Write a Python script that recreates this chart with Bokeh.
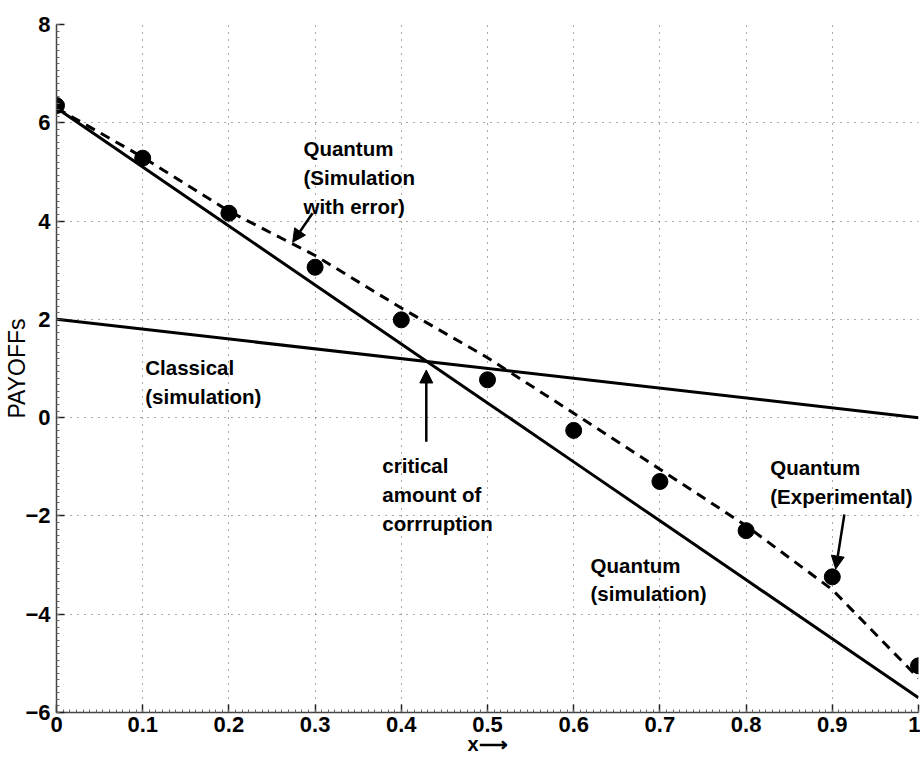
import numpy as np
from bokeh.plotting import figure
from bokeh.models import FixedTicker, Label, Arrow, NormalHead, Range1d
from bokeh.embed import file_html
from bokeh.resources import INLINE

# ---------------- data ----------------
x_vals = [0.0, 0.1, 0.2, 0.3, 0.4, 0.5, 0.6, 0.7, 0.8, 0.9, 1.0]
quantum_sim = [6.3, 5.1, 3.9, 2.7, 1.5, 0.3, -0.9, -2.1, -3.3, -4.5, -5.7]
quantum_sim_err = [6.3, 5.3, 4.2, 3.3, 2.23, 1.22, 0.09, -1.05, -2.2, -3.5, -5.3]
quantum_exp = [6.35, 5.28, 4.16, 3.06, 1.99, 0.77, -0.26, -1.30, -2.30, -3.24, -5.05]
classical_x = [0.0, 1.0]
classical_sim = [2.0, 0.0]

x_ticks = [0, 0.1, 0.2, 0.3, 0.4, 0.5, 0.6, 0.7, 0.8, 0.9, 1]
x_tick_labels = ["0", "0.1", "0.2", "0.3", "0.4", "0.5", "0.6", "0.7", "0.8", "0.9", "1"]
y_ticks = [-6, -4, -2, 0, 2, 4, 6, 8]
y_tick_labels = ["\u22126", "\u22124", "\u22122", "0", "2", "4", "6", "8"]

# annotation texts: (lines, x, y of first baseline)
annotations = [
    (["Quantum", "(Simulation", "with error)"], 0.2865, 5.47),
    (["Classical", "(simulation)"], 0.103, 1.02),
    (["critical", "amount of", "corrruption"], 0.378, -0.97),
    (["Quantum", "(simulation)"], 0.6195, -3.0),
    (["Quantum", "(Experimental)"], 0.828, -1.01),
]
# arrows: x_start, y_start, x_end, y_end
arrows = [
    (0.297, 4.16, 0.274, 3.57),
    (0.429, -0.49, 0.429, 0.97),
    (0.914, -1.97, 0.904, -3.08),
]

FONT = "Liberation Sans"

p = figure(width=920, height=757, output_backend="svg", toolbar_location=None,
           x_range=Range1d(0, 1), y_range=Range1d(-6, 8),
           min_border_left=56, min_border_right=2, min_border_top=24, min_border_bottom=43)
p.outline_line_color = None
p.background_fill_color = "white"
p.border_fill_color = "white"

# grid
for g in (p.xgrid, p.ygrid):
    g.grid_line_color = "#555555"
    g.grid_line_dash = "1 6"
    g.grid_line_width = 1
p.xgrid.ticker = FixedTicker(ticks=x_ticks)
p.ygrid.ticker = FixedTicker(ticks=y_ticks)

# axes
p.xaxis.ticker = FixedTicker(ticks=x_ticks, minor_ticks=list(np.round(np.arange(0, 1.0001, 0.1 / 13), 5)))
p.yaxis.ticker = FixedTicker(ticks=y_ticks, minor_ticks=list(np.round(np.arange(-6, 8.0001, 2 / 15), 5)))
p.xaxis.major_label_overrides = {t: l for t, l in zip(x_ticks, x_tick_labels)}
p.yaxis.major_label_overrides = {t: l for t, l in zip(y_ticks, y_tick_labels)}
for ax in (p.xaxis, p.yaxis):
    ax.axis_line_color = "#444444"
    ax.axis_line_width = 1.5
    ax.major_tick_in = 8
    ax.major_tick_out = 0
    ax.major_tick_line_color = "#222222"
    ax.major_tick_line_width = 1.5
    ax.minor_tick_in = 3
    ax.minor_tick_out = 0
    ax.minor_tick_line_color = "#666666"
    ax.major_label_text_font = FONT
    ax.major_label_text_font_style = "bold"
    ax.major_label_text_font_size = "22px"
    ax.major_label_text_color = "black"
    ax.axis_label_text_color = "black"
p.xaxis.major_label_standoff = 4
p.yaxis.major_label_standoff = 6

p.xaxis.axis_label = "x\u27f6"
p.xaxis.axis_label_text_font = FONT
p.xaxis.axis_label_text_font_style = "bold"
p.xaxis.axis_label_text_font_size = "20px"
p.xaxis.axis_label_standoff = -2

p.yaxis.axis_label = "PAYOFFs"
p.yaxis.axis_label_text_font = FONT
p.yaxis.axis_label_text_font_style = "normal"
p.yaxis.axis_label_text_font_size = "23px"
p.yaxis.axis_label_standoff = -8

# lines
p.line(x_vals, quantum_sim, line_color="black", line_width=3)
p.line(x_vals, quantum_sim_err, line_color="black", line_width=3, line_dash="10 7")
p.line(classical_x, classical_sim, line_color="black", line_width=3)
p.scatter(x_vals, quantum_exp, size=16, marker="circle", fill_color="black", line_color="black")

# annotations
LINE_STEP = 29 / (690 / 14)  # data units per text line
for lines, lx, ly in annotations:
    for i, t in enumerate(lines):
        p.add_layout(Label(x=lx, y=ly - i * LINE_STEP, text=t, text_font=FONT,
                           text_font_style="bold", text_font_size="20.5px",
                           text_baseline="alphabetic", text_align="left", text_color="black"))

for xs, ys, xe, ye in arrows:
    p.add_layout(Arrow(end=NormalHead(size=13, fill_color="black", line_color="black", line_width=1),
                       x_start=xs, y_start=ys, x_end=xe, y_end=ye,
                       line_color="black", line_width=2.5))

open("out.html", "w").write(file_html(p, INLINE))
